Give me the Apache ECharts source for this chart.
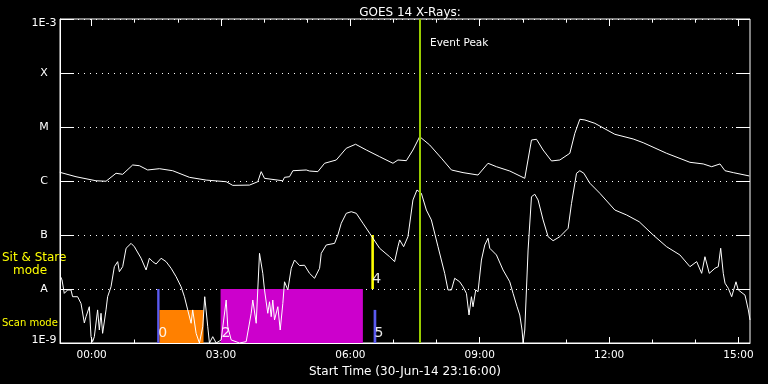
<!DOCTYPE html>
<html><head><meta charset="utf-8">
<script src="https://cdn.jsdelivr.net/npm/echarts@6/dist/echarts.min.js"></script>
<style>html,body{margin:0;padding:0;background:#000;}#c{width:768px;height:384px;}</style>
</head><body><div id="c"></div>
<script>
// Time in hours relative to 00:00 on 01-Jul-14 (start is 30-Jun-14 23:16 = -0.7333 h)
const timeMin = -0.7333;
const timeMax = 15.2667;

// GOES long channel (1-8 A), W/m^2
const longTime = [-0.738,-0.362,0.102,0.334,0.566,0.720,0.952,1.107,1.300,1.572,
1.880,2.268,2.656,3.120,3.273,3.661,3.853,3.932,4.009,4.434,
4.473,4.589,4.666,4.977,5.053,5.246,5.402,5.673,5.905,6.121,
6.370,6.678,6.987,7.103,7.298,7.451,7.607,7.839,8.111,8.343,
8.612,8.960,9.192,9.387,9.696,9.773,10.044,10.200,10.316,10.469,
10.664,10.857,11.089,11.205,11.321,11.437,11.669,12.133,12.558,12.790,
13.333,13.874,14.183,14.378,14.571,14.687,14.879,15.251];
const longFlux = [1.45e-6,1.20e-6,1.01e-6,0.99e-6,1.39e-6,1.33e-6,1.98e-6,1.92e-6,1.60e-6,1.69e-6,
1.55e-6,1.17e-6,1.04e-6,9.7e-7,8.3e-7,8.4e-7,9.7e-7,1.49e-6,1.12e-6,1.01e-6,
1.17e-6,1.20e-6,1.55e-6,1.60e-6,1.53e-6,1.49e-6,2.13e-6,2.45e-6,4.04e-6,4.79e-6,
3.75e-6,2.82e-6,2.13e-6,2.45e-6,2.38e-6,3.75e-6,6.62e-6,4.65e-6,2.64e-6,1.60e-6,
1.43e-6,1.29e-6,2.13e-6,1.84e-6,1.53e-6,1.43e-6,1.12e-6,5.74e-6,5.92e-6,3.75e-6,
2.35e-6,2.45e-6,3.26e-6,7.64e-6,1.39e-5,1.35e-5,1.17e-5,7.33e-6,6.0e-6,5.12e-6,
3.26e-6,2.22e-6,2.07e-6,1.84e-6,2.07e-6,1.55e-6,1.43e-6,1.24e-6];

// GOES short channel (0.5-4 A), W/m^2
const shortTime = [-0.727,-0.687,-0.634,-0.557,-0.478,-0.441,-0.325,-0.246,-0.169,-0.130,
-0.053,-0.014,0.023,0.063,0.139,0.179,0.218,0.255,0.334,0.371,
0.450,0.527,0.604,0.643,0.720,0.799,0.915,0.991,1.147,1.263,
1.339,1.416,1.495,1.611,1.727,1.843,1.959,2.075,2.152,2.228,
2.307,2.344,2.423,2.500,2.577,2.623,2.693,2.732,2.809,2.888,
3.004,3.041,3.120,3.157,3.236,3.429,3.584,3.700,3.737,3.816,
3.893,3.932,3.969,4.009,4.085,4.125,4.164,4.201,4.241,4.318,
4.373,4.434,4.473,4.550,4.629,4.705,4.821,4.937,5.053,5.169,
5.286,5.325,5.441,5.634,5.710,5.789,5.905,6.021,6.137,6.291,
6.446,6.678,6.910,7.026,7.103,7.143,7.235,7.335,7.451,7.544,
7.646,7.762,7.878,8.032,8.187,8.264,8.343,8.419,8.535,8.612,
8.691,8.751,8.807,8.844,8.907,8.960,9.039,9.116,9.192,9.232,
9.387,9.540,9.696,9.773,9.865,9.928,9.981,10.005,10.044,10.121,
10.200,10.276,10.353,10.469,10.585,10.701,10.857,11.049,11.128,11.244,
11.321,11.414,11.553,11.785,12.133,12.405,12.697,13.022,13.333,13.642,
13.874,14.030,14.146,14.222,14.322,14.454,14.531,14.587,14.647,14.687,
14.764,14.842,14.942,14.995,15.151,15.228,15.267];
const shortFlux = [1.74e-8,1.47e-8,8.3e-9,9.6e-9,9.6e-9,7.2e-9,7.2e-9,5.4e-9,2.35e-9,3.07e-9,
4.7e-9,1.31e-9,1.06e-9,1.31e-9,4.1e-9,1.74e-9,3.55e-9,1.51e-9,4.1e-9,7.2e-9,
1.10e-8,2.59e-8,3.21e-8,2.09e-8,2.59e-8,5.68e-8,7.0e-8,6.07e-8,3.71e-8,2.25e-8,
3.71e-8,3.21e-8,2.90e-8,3.71e-8,3.21e-8,2.42e-8,1.69e-8,1.10e-8,7.2e-9,4.1e-9,
2.32e-9,4.1e-9,1.51e-9,1e-9,2.0e-9,7.2e-9,2.0e-9,1e-9,1.31e-9,1e-9,
1.14e-9,1.2e-9,6.25e-9,2.0e-9,1.14e-9,1e-9,1.06e-9,3.55e-9,6.25e-9,2.32e-9,
4.58e-8,4.91e-8,1.95e-8,9.6e-9,3.55e-9,5.8e-9,3.07e-9,6.25e-9,2.67e-9,4.7e-9,
1.74e-9,5.4e-9,1.36e-8,9.6e-9,2.42e-8,3.44e-8,2.72e-8,2.75e-8,1.95e-8,1.58e-8,
2.42e-8,4.58e-8,6.53e-8,7.0e-8,1.0e-7,1.65e-7,2.52e-7,2.70e-7,2.52e-7,1.65e-7,
1.08e-7,5.68e-8,3.96e-8,3.21e-8,6.07e-8,8.1e-8,6.07e-8,9.3e-8,4.45e-7,6.81e-7,
5.92e-7,2.90e-7,1.90e-7,6.07e-8,1.95e-8,9.6e-9,9.6e-9,1.58e-8,1.36e-8,1.10e-8,
8.3e-9,3.3e-9,7.2e-9,4.7e-9,9.6e-9,8.9e-9,3.44e-8,6.53e-8,8.7e-8,5.68e-8,
4.27e-8,2.25e-8,1.36e-8,8.3e-9,4.7e-9,3.3e-9,1.74e-9,1e-9,1.74e-9,5.27e-8,
5.12e-7,5.68e-7,4.45e-7,1.90e-7,9.3e-8,7.85e-8,9.3e-8,1.33e-7,3.86e-7,1.39e-6,
1.55e-6,1.39e-6,9.1e-7,5.92e-7,2.90e-7,2.35e-7,1.76e-7,1.0e-7,6.07e-8,4.27e-8,
2.59e-8,3.21e-8,1.95e-8,3.96e-8,1.95e-8,2.42e-8,2.59e-8,5.68e-8,1.95e-8,1.28e-8,
1.03e-8,7.2e-9,1.36e-8,9.6e-9,7.7e-9,4.1e-9,2.67e-9];

// Observation mode blocks
const regionStart = [1.52, 1.575, 2.99, 6.486, 6.539];
const regionEnd   = [1.575, 2.595, 6.29, 6.546, 6.601];
const regionLow   = [1e-9, 1e-9, 1e-9, 1e-8, 1e-9];
const regionHigh  = [1e-8, 4.1e-9, 1e-8, 1e-7, 4.1e-9];
const regionLabels = ['0', '', '2', '4', '5'];
const regionColors = ['#5a5af0', '#ff8000', '#cc00cc', '#ffff00', '#5a5af0'];

const eventTime = 7.607;
const eventLabel = 'Event Peak';

const xTickHours = [0, 3, 6, 9, 12, 15];
const xTickLabels = ['00:00', '03:00', '06:00', '09:00', '12:00', '15:00'];
const xMinorHours = [1, 2, 4, 5, 7, 8, 10, 11, 13, 14];
const yMin = 1e-9, yMax = 1e-3;
const yTickExp = [-9, -8, -7, -6, -5, -4, -3];
const yTickLabels = ['1E-9', 'A', 'B', 'C', 'M', 'X', '1E-3'];

const titleText = 'GOES 14 X-Rays:';
const xAxisTitle = 'Start Time (30-Jun-14 23:16:00)';

const FONT = 'DejaVu Sans';
const chart = echarts.init(document.getElementById('c'), null, {renderer: 'canvas'});

function xAxisBase(extra) {
  return Object.assign({
    type: 'value', min: timeMin, max: timeMax, gridIndex: 0,
    axisLine: {show: false, onZero: false},
    splitLine: {show: false},
    axisLabel: {show: false},
    axisTick: {show: true, inside: true, lineStyle: {color: '#fff', width: 1}}
  }, extra);
}

const option = {
  backgroundColor: '#000',
  animation: false,
  textStyle: {fontFamily: FONT, color: '#fff'},
  title: {
    text: titleText, left: 405, top: 2, textAlign: 'center',
    textStyle: {color: '#fff', fontSize: 12, fontWeight: 'normal', fontFamily: FONT}
  },
  grid: {left: 60, top: 19, width: 690, height: 324, show: true, borderColor: '#fff', borderWidth: 1, backgroundColor: 'transparent'},
  xAxis: [
    xAxisBase({
      position: 'bottom',
      axisLine: {show: true, onZero: false, lineStyle: {color: '#fff', width: 1}},
      axisTick: {show: true, inside: true, length: 6, customValues: xTickHours, lineStyle: {color: '#fff'}},
      axisLabel: {show: true, customValues: xTickHours, margin: 7, color: '#fff', fontSize: 10.5, fontFamily: FONT,
        formatter: v => { const i = xTickHours.indexOf(Math.round(v)); return i >= 0 ? xTickLabels[i] : ''; }},
      name: xAxisTitle, nameLocation: 'middle', nameGap: 18,
      nameTextStyle: {color: '#fff', fontSize: 12, fontFamily: FONT}
    }),
    xAxisBase({position: 'bottom', axisTick: {show: true, inside: true, length: 3.5, customValues: xMinorHours, lineStyle: {color: '#fff'}}}),
    xAxisBase({position: 'top', axisTick: {show: true, inside: true, length: 7, customValues: xTickHours, lineStyle: {color: '#fff'}}}),
    xAxisBase({position: 'top', axisTick: {show: true, inside: true, length: 3.7, customValues: xMinorHours, lineStyle: {color: '#fff'}}})
  ],
  yAxis: [
    {
      type: 'log', logBase: 10, min: yMin, max: yMax, interval: 1, position: 'left',
      axisLine: {show: true, onZero: false, lineStyle: {color: '#fff'}},
      axisTick: {show: true, inside: true, length: 14, lineStyle: {color: '#fff'}},
      splitLine: {show: true, lineStyle: {color: '#fff', width: 1, type: [1, 5]}},
      axisLabel: {show: true, align: 'center', margin: 16, color: '#fff', fontSize: 11, fontFamily: FONT,
        rich: {
          top: {fontSize: 11, fontFamily: FONT, color: '#fff', padding: [8, 0, 0, 0]},
          bot: {fontSize: 11, fontFamily: FONT, color: '#fff', padding: [0, 0, 5, 0]}
        },
        formatter: v => {
          const e = Math.round(Math.log10(v)); const i = yTickExp.indexOf(e);
          if (i < 0) return '';
          if (i === yTickExp.length - 1) return '{top|' + yTickLabels[i] + '}';
          if (i === 0) return '{bot|' + yTickLabels[i] + '}';
          return yTickLabels[i];
        }}
    },
    {
      type: 'log', logBase: 10, min: yMin, max: yMax, interval: 1, position: 'right',
      axisLine: {show: false, onZero: false},
      axisTick: {show: true, inside: true, length: 14, lineStyle: {color: '#fff'}},
      splitLine: {show: false},
      axisLabel: {show: false}
    }
  ],
  graphic: [
    {type: 'text', left: 2, top: 252, style: {text: 'Sit & Stare', fill: '#ffff00', font: '12px "DejaVu Sans"'}},
    {type: 'text', left: 13, top: 265, style: {text: 'mode', fill: '#ffff00', font: '12px "DejaVu Sans"'}},
    {type: 'text', left: 2, top: 318, style: {text: 'Scan mode', fill: '#ffff00', font: '10px "DejaVu Sans"'}}
  ],
  series: [
    {
      type: 'custom', xAxisIndex: 0, yAxisIndex: 0, z: 1, clip: true,
      encode: {x: [0, 1], y: [2, 3]},
      data: regionStart.map((s, i) => [s, regionEnd[i], regionLow[i], regionHigh[i]]),
      renderItem: function (params, api) {
        const i = params.dataIndex;
        const p0 = api.coord([api.value(0), api.value(3)]);
        const p1 = api.coord([api.value(1), api.value(2)]);
        const children = [{
          type: 'rect',
          shape: {x: p0[0], y: p0[1], width: Math.max(2, p1[0] - p0[0]), height: p1[1] - p0[1]},
          style: {fill: regionColors[i]}
        }];
        if (regionLabels[i]) {
          children.push({type: 'text', z2: 10, x: p0[0] + 1, y: p1[1] - 3,
            style: {text: regionLabels[i], fill: '#fff', font: '14px "DejaVu Sans"', align: 'left', verticalAlign: 'bottom', opacity: 0.9}});
        }
        return {type: 'group', children: children};
      }
    },
    {
      type: 'line', name: 'long', xAxisIndex: 0, yAxisIndex: 0, z: 3,
      showSymbol: false, symbol: 'none', clip: true,
      lineStyle: {color: '#fff', width: 1},
      data: longTime.map((t, i) => [t, longFlux[i]])
    },
    {
      type: 'line', name: 'short', xAxisIndex: 0, yAxisIndex: 0, z: 3,
      showSymbol: false, symbol: 'none', clip: true,
      lineStyle: {color: '#fff', width: 1},
      data: shortTime.map((t, i) => [t, shortFlux[i]])
    },
    {
      type: 'custom', xAxisIndex: 0, yAxisIndex: 0, z: 5,
      encode: {x: 0, y: 1},
      data: [[eventTime, yMax]],
      renderItem: function (params, api) {
        const top = api.coord([api.value(0), yMax]);
        const bot = api.coord([api.value(0), yMin]);
        const x = Math.round(top[0]);
        return {type: 'group', children: [
          {type: 'line', shape: {x1: x, y1: top[1], x2: x, y2: bot[1]}, style: {stroke: '#99cc00', lineWidth: 2}},
          {type: 'text', x: x + 10, y: top[1] + 24, style: {text: eventLabel, fill: '#fff', font: '10.5px "DejaVu Sans"', verticalAlign: 'middle'}}
        ]};
      }
    }
  ]
};
chart.setOption(option);
</script>
</body></html>
